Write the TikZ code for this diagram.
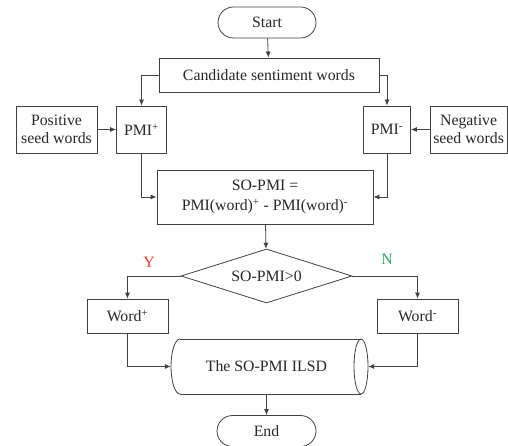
\documentclass[tikz,border=0pt]{standalone}
\usepackage{fontspec}
\setmainfont{Liberation Serif}
\usetikzlibrary{shapes.geometric,arrows.meta}
\definecolor{linec}{HTML}{404040}
\definecolor{textc}{HTML}{262626}
\definecolor{yesc}{HTML}{E53935}
\definecolor{noc}{HTML}{2EAA5E}
\tikzset{
  box/.style={draw=linec, line width=0.8pt, rectangle, inner sep=0pt, text=textc, align=center},
  term/.style={box, rounded corners=15.5pt},
  arr/.style={draw=linec, line width=0.8pt, -{Latex[length=6pt,width=5pt]}},
  outline/.style={draw=linec, line width=0.8pt},
}
\begin{document}
\begin{tikzpicture}[x=1pt,y=-1pt, font=\fontsize{15.8}{19.5}\selectfont]
\useasboundingbox (0,0) rectangle (508,446);

% terminals
\node[term, minimum width=98pt, minimum height=31pt] (start) at (267,22.5) {Start};
\node[term, minimum width=99pt, minimum height=31pt] (end) at (266.5,431) {End};

% boxes
\node[box, minimum width=220pt, minimum height=34pt] (cand) at (269,75) {Candidate sentiment words};
\node[box, minimum width=50pt, minimum height=47pt] (pmip) at (141.5,129.5) {PMI\textsuperscript{+}};
\node[box, minimum width=81pt, minimum height=47pt] (pos) at (56.5,129.5) {Positive\\[-1pt]seed words};
\node[box, minimum width=47pt, minimum height=47pt] (pmim) at (387,129.5) {PMI\textsuperscript{-}};
\node[box, minimum width=77pt, minimum height=47pt] (neg) at (468.6,129.5) {Negative\\[-1pt]seed words};
\node[box, minimum width=216pt, minimum height=54pt] (so) at (265,197) {SO-PMI =\\PMI(word)\textsuperscript{+} - PMI(word)\textsuperscript{-}};
\node[diamond, draw=linec, line width=0.8pt, aspect=3.17, inner sep=0pt,
      minimum width=171pt, minimum height=54pt, text=textc] (dec) at (266.5,276) {SO-PMI>0};
\node[box, minimum width=81pt, minimum height=34pt] (wp) at (127.5,316) {Word\textsuperscript{+}};
\node[box, minimum width=81pt, minimum height=34pt] (wm) at (417.5,316) {Word\textsuperscript{-}};

% storage cylinder
\node[minimum width=197pt, minimum height=55pt, inner sep=0pt, text=textc] (cyl) at (269.5,366.5) {\hspace{-6pt}The SO-PMI ILSD};
\draw[outline] (180,339) -- (361,339);
\draw[outline] (180,394) -- (361,394);
\draw[outline] (180,339) arc[start angle=90, end angle=270, x radius=9pt, y radius=27.5pt];
\draw[outline] (361,366.5) ellipse[x radius=7pt, y radius=27.5pt];

% connectors
\draw[arr] (start) -- (cand);
\draw[arr] (cand.west) -| (pmip.north);
\draw[arr] (cand.east) -| (pmim.north);
\draw[arr] (pos) -- (pmip);
\draw[arr] (neg) -- (pmim);
\draw[arr] (pmip.south) |- (so.west);
\draw[arr] (pmim.south) |- (so.east);
\draw[arr] (so) -- (dec);
\draw[arr] (dec.west) -| (wp.north);
\draw[arr] (dec.east) -| (wm.north);
\draw[arr] (wp.south) |- (cyl.west);
\draw[arr] (wm.south) |- (cyl.east);
\draw[arr] (cyl.south) ++(-3,0) -- (end.north);

% branch labels
\node[text=yesc] (ylab) at (149,262) {Y};
\node[text=noc] (nlab) at (387,259) {N};
\end{tikzpicture}
\end{document}
